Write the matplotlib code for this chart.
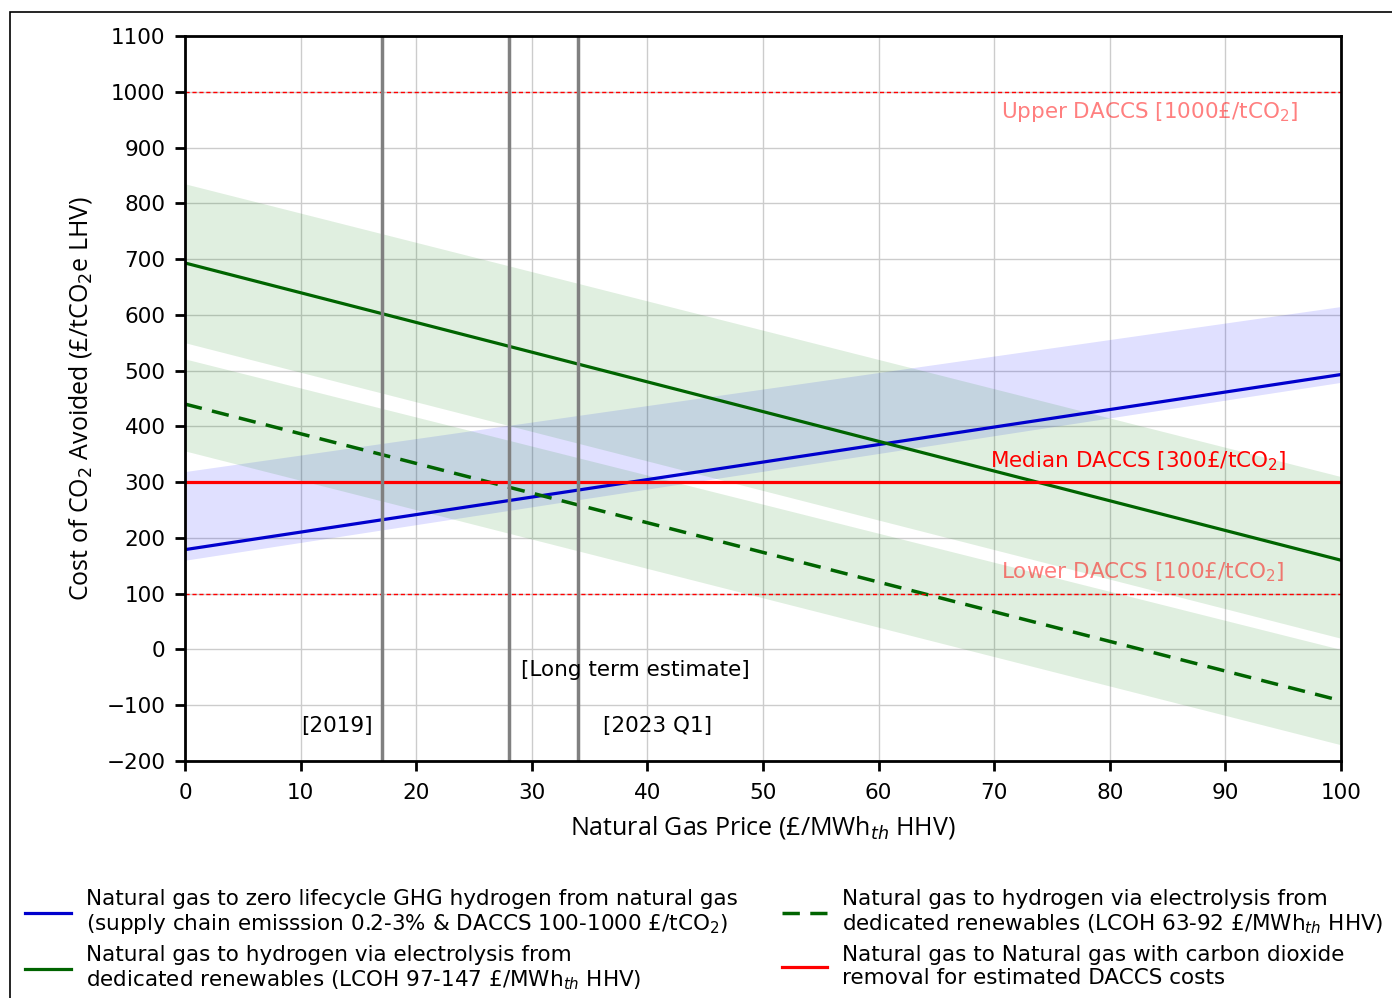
import numpy as np
import matplotlib.pyplot as plt
import matplotlib.patches as mpatches

# Natural gas price end points (£/MWh_th HHV)
gas_price = [0, 100]

# Zero lifecycle GHG hydrogen from natural gas
blue_mid = [179, 493]
blue_low = [160, 479]
blue_high = [319, 615]

# Electrolysis from dedicated renewables, LCOH 97-147
green_mid = [693, 160]
green_low = [550, 20]
green_high = [835, 310]

# Electrolysis from dedicated renewables, LCOH 63-92
dash_mid = [440, -92]
dash_low = [356, -171]
dash_high = [521, 0]

# DACCS cost levels (£/tCO2)
daccs_upper = 1000
daccs_median = 300
daccs_lower = 100

# Reference gas prices
price_markers = [17, 28, 34]
price_labels = ['[2019]', '[Long term estimate]', '[2023 Q1]']
price_label_pos = [(13.1, -137), (39.0, -37), (40.9, -137)]

fig = plt.figure(figsize=(13.92, 9.98), dpi=100)
ax = fig.add_axes([0.1329, 0.2375, 0.8305, 0.7264])

ax.fill_between(gas_price, blue_low, blue_high, color='blue', alpha=0.12, linewidth=0)
ax.fill_between(gas_price, green_low, green_high, color='green', alpha=0.12, linewidth=0)
ax.fill_between(gas_price, dash_low, dash_high, color='green', alpha=0.12, linewidth=0)

ax.plot(gas_price, blue_mid, color='mediumblue', lw=2.3,
        label='Natural gas to zero lifecycle GHG hydrogen from natural gas\n'
              '(supply chain emisssion 0.2-3% & DACCS 100-1000 £/tCO$_2$)')
ax.plot(gas_price, green_mid, color='darkgreen', lw=2.3,
        label='Natural gas to hydrogen via electrolysis from\n'
              'dedicated renewables (LCOH 97-147 £/MWh$_{th}$ HHV)')
ax.plot(gas_price, dash_mid, color='darkgreen', lw=2.5, ls=(0, (5, 3)),
        label='Natural gas to hydrogen via electrolysis from\n'
              'dedicated renewables (LCOH 63-92 £/MWh$_{th}$ HHV)')
ax.axhline(daccs_median, color='red', lw=2.3,
           label='Natural gas to Natural gas with carbon dioxide\n'
                 'removal for estimated DACCS costs')
ax.axhline(daccs_upper, color='red', lw=1, ls=(0, (3, 2)))
ax.axhline(daccs_lower, color='red', lw=1, ls=(0, (3, 2)))

ax.text(70.6, 964, 'Upper DACCS [1000£/tCO$_2$]', color='red', alpha=0.5,
        fontsize=15.5, va='center', ha='left')
ax.text(69.6, 338, 'Median DACCS [300£/tCO$_2$]', color='red',
        fontsize=15.5, va='center', ha='left')
ax.text(70.6, 139, 'Lower DACCS [100£/tCO$_2$]', color='red', alpha=0.5,
        fontsize=15.5, va='center', ha='left')

for p in price_markers:
    ax.axvline(p, color='gray', lw=2.5)
for lbl, (px, py) in zip(price_labels, price_label_pos):
    ax.text(px, py, lbl, fontsize=15.5, ha='center', va='center')

ax.set_xlim(0, 100)
ax.set_ylim(-200, 1100)
ax.set_xticks(np.arange(0, 101, 10))
ax.set_yticks(np.arange(-200, 1101, 100))
ax.grid(True, color='#cccccc', lw=1)
ax.set_axisbelow(True)
ax.tick_params(labelsize=15.5, width=2, length=7, pad=7)
ax.tick_params(axis='x', pad=9)
for s in ax.spines.values():
    s.set_linewidth(2)

ax.set_xlabel('Natural Gas Price (£/MWh$_{th}$ HHV)', fontsize=18,
              family='Open Sans', labelpad=8)
ax.set_ylabel('Cost of CO$_2$ Avoided (£/tCO$_2$e LHV)', fontsize=18,
              family='Open Sans', labelpad=9)

fig.legend(loc='upper left', bbox_to_anchor=(0.012, 0.118), ncol=2,
           frameon=False, fontsize=15.5, handlelength=2.1, handletextpad=0.7,
           columnspacing=2.07, labelspacing=0.4, borderaxespad=0)

# thin frame around the figure
fig.patches.append(mpatches.Rectangle((0.0072, -0.2), 1.2, 1.1875,
                                      transform=fig.transFigure, fill=False,
                                      edgecolor='black', lw=1.2, clip_on=False))

fig.savefig('out.png', dpi=100)
